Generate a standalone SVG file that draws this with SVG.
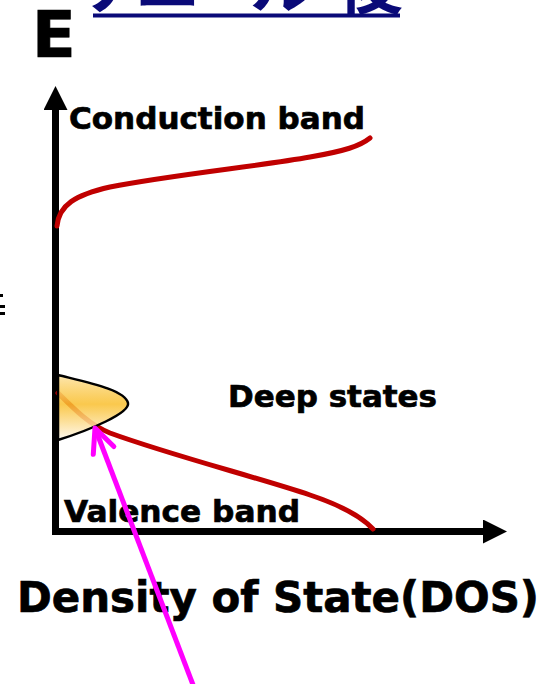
<svg xmlns="http://www.w3.org/2000/svg" width="542" height="684" viewBox="0 0 542 684">
<style>
.lbl{font-family:"DejaVu Sans","Verdana",sans-serif;font-weight:bold;fill:#000;stroke:#000;stroke-width:0.7}
.band{fill:none;stroke:#c00000;stroke-width:5;stroke-linecap:round}
.axis{fill:none;stroke:#000;stroke-width:7}
.jp{font-family:"Noto Sans CJK JP",sans-serif;font-weight:bold;fill:#0a0a78;font-size:66px}
</style>
<defs>
<marker id="axArrow" viewBox="0 0 24 24" refX="6" refY="12" markerWidth="24" markerHeight="24" markerUnits="userSpaceOnUse" orient="auto-start-reverse">
<path d="M0,0 L24,12 L0,24 Z" fill="#000"/>
</marker>
<marker id="openArrow" viewBox="-30 -15 34 30" refX="0" refY="0" markerWidth="34" markerHeight="30" markerUnits="userSpaceOnUse" orient="auto">
<path d="M-24,-11 L0,0 L-24,11" fill="none" stroke="#ff00ff" stroke-width="5" stroke-linecap="round" stroke-linejoin="round"/>
</marker>
<linearGradient id="deepGrad" x1="0" y1="0" x2="0" y2="1">
<stop offset="0" stop-color="#fde7b0"/>
<stop offset="0.45" stop-color="#f9bf2e" stop-opacity="0.85"/>
<stop offset="1" stop-color="#fffaf0" stop-opacity="0.9"/>
</linearGradient>
</defs>

<g id="title">
<text class="jp" y="8"><tspan x="82">ア</tspan><tspan x="135">ニ</tspan><tspan x="200">ー</tspan><tspan x="250">ル</tspan><tspan x="337">後</tspan></text>
<rect x="93" y="13.5" width="307" height="4" fill="#0a0a78"/>
</g>

<g id="clipped-mark">
<rect x="0" y="294" width="3" height="3" fill="#000"/>
<rect x="0" y="305" width="5" height="3" fill="#000"/>
<rect x="0" y="312" width="5" height="3" fill="#000"/>
</g>

<g id="E-label"><text class="lbl" x="32" y="57" font-size="64">E</text></g>

<g id="connectors">
<path class="axis" d="M55.5,104 L55.5,531.5 L489,531.5" marker-start="url(#axArrow)" marker-end="url(#axArrow)"/>
</g>

<g id="conduction-band">
<path class="band" d="M57,226 C59,205 75,195 110,187 C170,175 260,166 310,157 C345,151 360,146 370,138"/>
<text class="lbl" x="69" y="129" font-size="31" textLength="296" lengthAdjust="spacingAndGlyphs">Conduction band</text>
</g>

<g id="valence-band">
<path class="band" d="M58,393 C75,410 90,425 110,433 C170,455 260,478 310,495 C340,505 360,515 373,529"/>
<text class="lbl" x="64" y="522" font-size="31" textLength="236" lengthAdjust="spacingAndGlyphs">Valence band</text>
</g>

<g id="deep-states">
<path d="M58,375 C90,383 125,390 128,403 C130,413 90,430 58,440 Z" fill="url(#deepGrad)" stroke="#000" stroke-width="2.5"/>
<text class="lbl" x="228" y="407" font-size="31" textLength="209" lengthAdjust="spacingAndGlyphs">Deep states</text>
</g>

<g id="x-label"><text class="lbl" x="17" y="612" font-size="42" textLength="522" lengthAdjust="spacingAndGlyphs">Density of State(DOS)</text></g>

<g id="pointer">
<line x1="195" y1="690" x2="95" y2="428" stroke="#ff00ff" stroke-width="5" marker-end="url(#openArrow)"/>
</g>
</svg>
